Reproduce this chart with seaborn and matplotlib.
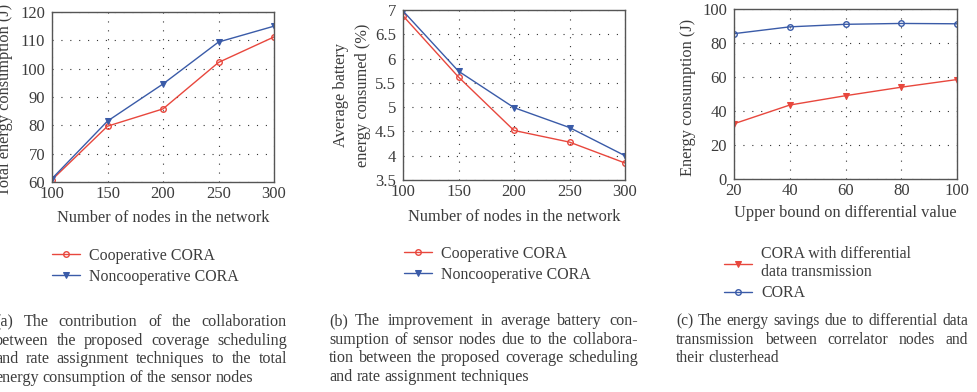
import matplotlib
matplotlib.use('Agg')
import matplotlib.pyplot as plt
import seaborn as sns

# данные трёх панелей
nodes = [100, 150, 200, 250, 300]
energy_coop = [60.8, 79.7, 85.8, 102.2, 111.2]
energy_noncoop = [61.2, 81.5, 94.6, 109.4, 115.0]

battery_coop = [6.88, 5.62, 4.52, 4.28, 3.85]
battery_noncoop = [6.98, 5.74, 4.99, 4.58, 4.00]

bounds = [20, 40, 60, 80, 100]
cora_diff = [32.5, 43.5, 49.0, 54.0, 58.5]
cora_plain = [85.5, 89.5, 91.0, 91.5, 91.3]

caption_a = ["(a) The contribution of the collaboration",
             "between the proposed coverage scheduling",
             "and rate assignment techniques to the total",
             "energy consumption of the sensor nodes"]
caption_b = ["(b) The improvement in average battery con-",
             "sumption of sensor nodes due to the collabora-",
             "tion between the proposed coverage scheduling",
             "and rate assignment techniques"]
caption_c = ["(c) The energy savings due to differential data",
             "transmission between correlator nodes and",
             "their clusterhead"]

sns.set_style('white')
plt.rcParams['font.family'] = ['Liberation Serif', 'DejaVu Serif']

RED = '#e8473d'
BLUE = '#3a5ba8'
TXT = '#3c3c3c'
W, H = 977, 392

fig = plt.figure(figsize=(9.77, 3.92), dpi=100)


def px_axes(l, t, r, b):
    return fig.add_axes([l / W, 1 - b / H, (r - l) / W, (b - t) / H])


def style_axes(ax, xticks, yticks):
    ax.set_xlim(xticks[0], xticks[-1])
    ax.set_ylim(yticks[0], yticks[-1])
    ax.set_xticks(xticks)
    ax.set_yticks(yticks)
    ax.grid(True, color='#333333', linestyle=(0, (1, 7)), linewidth=0.8)
    for s in ax.spines.values():
        s.set_color('#555555')
        s.set_linewidth(1.0)
    ax.tick_params(length=0, labelsize=12, colors=TXT)
    ax.tick_params(axis='y', pad=5)
    ax.tick_params(axis='x', pad=3)
    ax.set_xlabel('')
    ax.set_ylabel('')


def justify(lines, left, right, top, step, size=11.6):
    # подпись с выравниванием по ширине, последняя строка влево
    r = fig.canvas.get_renderer()
    for i, line in enumerate(lines):
        y = 1 - (top + i * step) / H
        words = line.split(' ')
        ts = [fig.text(0, y, w_, fontsize=size, color=TXT, va='center') for w_ in words]
        widths = [t.get_window_extent(r).width for t in ts]
        if i == len(lines) - 1:
            gap = size * 0.25 * 100 / 72
        else:
            gap = (right - left - sum(widths)) / max(len(words) - 1, 1)
        x = left
        for t, wd in zip(ts, widths):
            t.set_x(x / W)
            x += wd + gap


def leg(ax, x, y, order):
    h, l = ax.get_legend_handles_labels()
    ax.legend([h[i] for i in order], [l[i] for i in order], loc='upper left',
              bbox_to_anchor=(x / W, 1 - y / H), bbox_transform=fig.transFigure,
              frameon=False, fontsize=11.4, handlelength=1.75, handletextpad=0.6,
              labelspacing=0.3, labelcolor=TXT, borderpad=0, borderaxespad=0)


# (a)
ax = px_axes(52, 12, 274, 182)
sns.lineplot(x=nodes, y=energy_coop, ax=ax, color=RED, marker='o', markersize=4,
             mfc='none', mec=RED, mew=1, lw=1, label='Cooperative CORA')
sns.lineplot(x=nodes, y=energy_noncoop, ax=ax, color=BLUE, marker='v', markersize=5,
             mec=BLUE, lw=1, label='Noncooperative CORA')
style_axes(ax, nodes, [60, 70, 80, 90, 100, 110, 120])
fig.text(5 / W, 1 - 100 / H, 'Total energy consumption (J)', rotation=90,
         ha='center', va='center', fontsize=11.8, color=TXT)
fig.text(163 / W, 1 - 218 / H, 'Number of nodes in the network', ha='center',
         va='center', fontsize=11.8, color=TXT)
leg(ax, 52, 248, [0, 1])
justify(caption_a, -5, 287, 322, 18.6)

# (b)
ax = px_axes(403, 10, 625, 180)
sns.lineplot(x=nodes, y=battery_coop, ax=ax, color=RED, marker='o', markersize=4,
             mfc='none', mec=RED, mew=1, lw=1, label='Cooperative CORA')
sns.lineplot(x=nodes, y=battery_noncoop, ax=ax, color=BLUE, marker='v', markersize=5,
             mec=BLUE, lw=1, label='Noncooperative CORA')
style_axes(ax, nodes, [3.5, 4, 4.5, 5, 5.5, 6, 6.5, 7])
ax.set_yticklabels(['3.5', '4', '4.5', '5', '5.5', '6', '6.5', '7'])
fig.text(352 / W, 1 - 95 / H, 'Average battery\nenergy consumed (%)', rotation=90,
         ha='center', va='center', fontsize=11.8, color=TXT, linespacing=1.45)
fig.text(514 / W, 1 - 217 / H, 'Number of nodes in the network', ha='center',
         va='center', fontsize=11.8, color=TXT)
leg(ax, 404, 246, [0, 1])
justify(caption_b, 329, 638, 321, 18.6)

# (c)
ax = px_axes(734, 9, 957, 179)
sns.lineplot(x=bounds, y=cora_diff, ax=ax, color=RED, marker='v', markersize=5,
             mec=RED, lw=1, label='CORA with differential\ndata transmission')
sns.lineplot(x=bounds, y=cora_plain, ax=ax, color=BLUE, marker='o', markersize=4,
             mfc='none', mec=BLUE, mew=1, lw=1, label='CORA')
style_axes(ax, bounds, [0, 20, 40, 60, 80, 100])
fig.text(688 / W, 1 - 97 / H, 'Energy consumption (J)', rotation=90,
         ha='center', va='center', fontsize=11.8, color=TXT)
fig.text(845 / W, 1 - 213 / H, 'Upper bound on differential value', ha='center',
         va='center', fontsize=11.8, color=TXT)
leg(ax, 724, 246, [0, 1])
justify(caption_c, 676, 968, 321, 18.6, size=11.2)

plt.savefig('out.png', dpi=100)
